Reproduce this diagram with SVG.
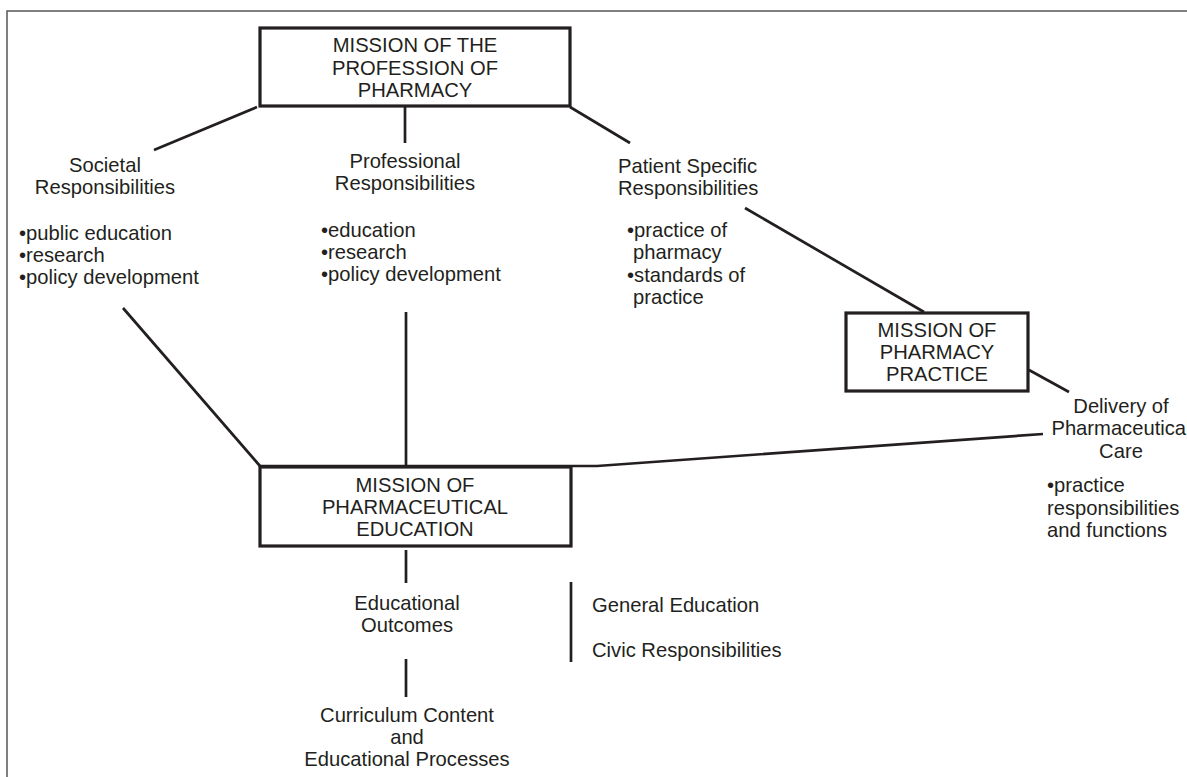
<svg xmlns="http://www.w3.org/2000/svg" width="1187" height="777" viewBox="0 0 1187 777">
<style>
text{font-family:"Liberation Sans",Arial,sans-serif;font-size:20.2px;fill:#231f20}
.c{text-anchor:middle}
.box{fill:#fff;stroke:#231f20;stroke-width:3.2}
.ln{fill:none;stroke:#231f20;stroke-width:2.7}
</style>
<rect width="1187" height="777" fill="#fff"/>
<rect x="7" y="11" width="1200" height="790" fill="none" stroke="#555" stroke-width="1.5"/>
<g id="connectors">
<line class="ln" x1="257" y1="107" x2="154" y2="150"/>
<line class="ln" x1="405" y1="107" x2="405" y2="143"/>
<line class="ln" x1="570" y1="107" x2="630" y2="143"/>
<line class="ln" x1="745" y1="208" x2="924" y2="312"/>
<line class="ln" x1="1029" y1="370" x2="1069" y2="392"/>
<line class="ln" x1="123" y1="308" x2="260" y2="466"/>
<line class="ln" x1="406" y1="312" x2="406" y2="466"/>
<polyline class="ln" points="260,466 597,466 1043,434"/>
<line class="ln" x1="406" y1="550" x2="406" y2="583"/>
<line class="ln" x1="406" y1="659" x2="406" y2="697"/>
<line class="ln" x1="571" y1="582" x2="571" y2="662"/>
</g>
<g id="mission-profession">
<rect class="box" x="260" y="28" width="310" height="78"/>
<text class="c" x="415" y="52">MISSION OF THE</text>
<text class="c" x="415" y="75">PROFESSION OF</text>
<text class="c" x="415" y="97">PHARMACY</text>
</g>
<g id="societal">
<text class="c" x="105" y="172">Societal</text>
<text class="c" x="105" y="194">Responsibilities</text>
<text x="19" y="240">•public education</text>
<text x="19" y="262">•research</text>
<text x="19" y="284">•policy development</text>
</g>
<g id="professional">
<text class="c" x="405" y="168">Professional</text>
<text class="c" x="405" y="190">Responsibilities</text>
<text x="321" y="237">•education</text>
<text x="321" y="259">•research</text>
<text x="321" y="281">•policy development</text>
</g>
<g id="patient">
<text x="618" y="173">Patient Specific</text>
<text x="618" y="195">Responsibilities</text>
<text x="627" y="237">•practice of</text>
<text x="633" y="259">pharmacy</text>
<text x="627" y="282">•standards of</text>
<text x="633" y="304">practice</text>
</g>
<g id="mission-practice">
<rect class="box" x="846" y="313" width="182" height="78"/>
<text class="c" x="937" y="337">MISSION OF</text>
<text class="c" x="937" y="359">PHARMACY</text>
<text class="c" x="937" y="381">PRACTICE</text>
</g>
<g id="delivery">
<text class="c" x="1121" y="413">Delivery of</text>
<text class="c" x="1121" y="435">Pharmaceutical</text>
<text class="c" x="1121" y="458">Care</text>
<text x="1047" y="492">•practice</text>
<text x="1047" y="515">responsibilities</text>
<text x="1047" y="537">and functions</text>
</g>
<g id="mission-education">
<rect class="box" x="260" y="467" width="311" height="79"/>
<text class="c" x="415" y="492">MISSION OF</text>
<text class="c" x="415" y="514">PHARMACEUTICAL</text>
<text class="c" x="415" y="536">EDUCATION</text>
</g>
<g id="outcomes">
<text class="c" x="407" y="610">Educational</text>
<text class="c" x="407" y="632">Outcomes</text>
</g>
<g id="general">
<text x="592" y="612">General Education</text>
<text x="592" y="657">Civic Responsibilities</text>
</g>
<g id="curriculum">
<text class="c" x="407" y="722">Curriculum Content</text>
<text class="c" x="407" y="744">and</text>
<text class="c" x="407" y="766">Educational Processes</text>
</g>
</svg>
